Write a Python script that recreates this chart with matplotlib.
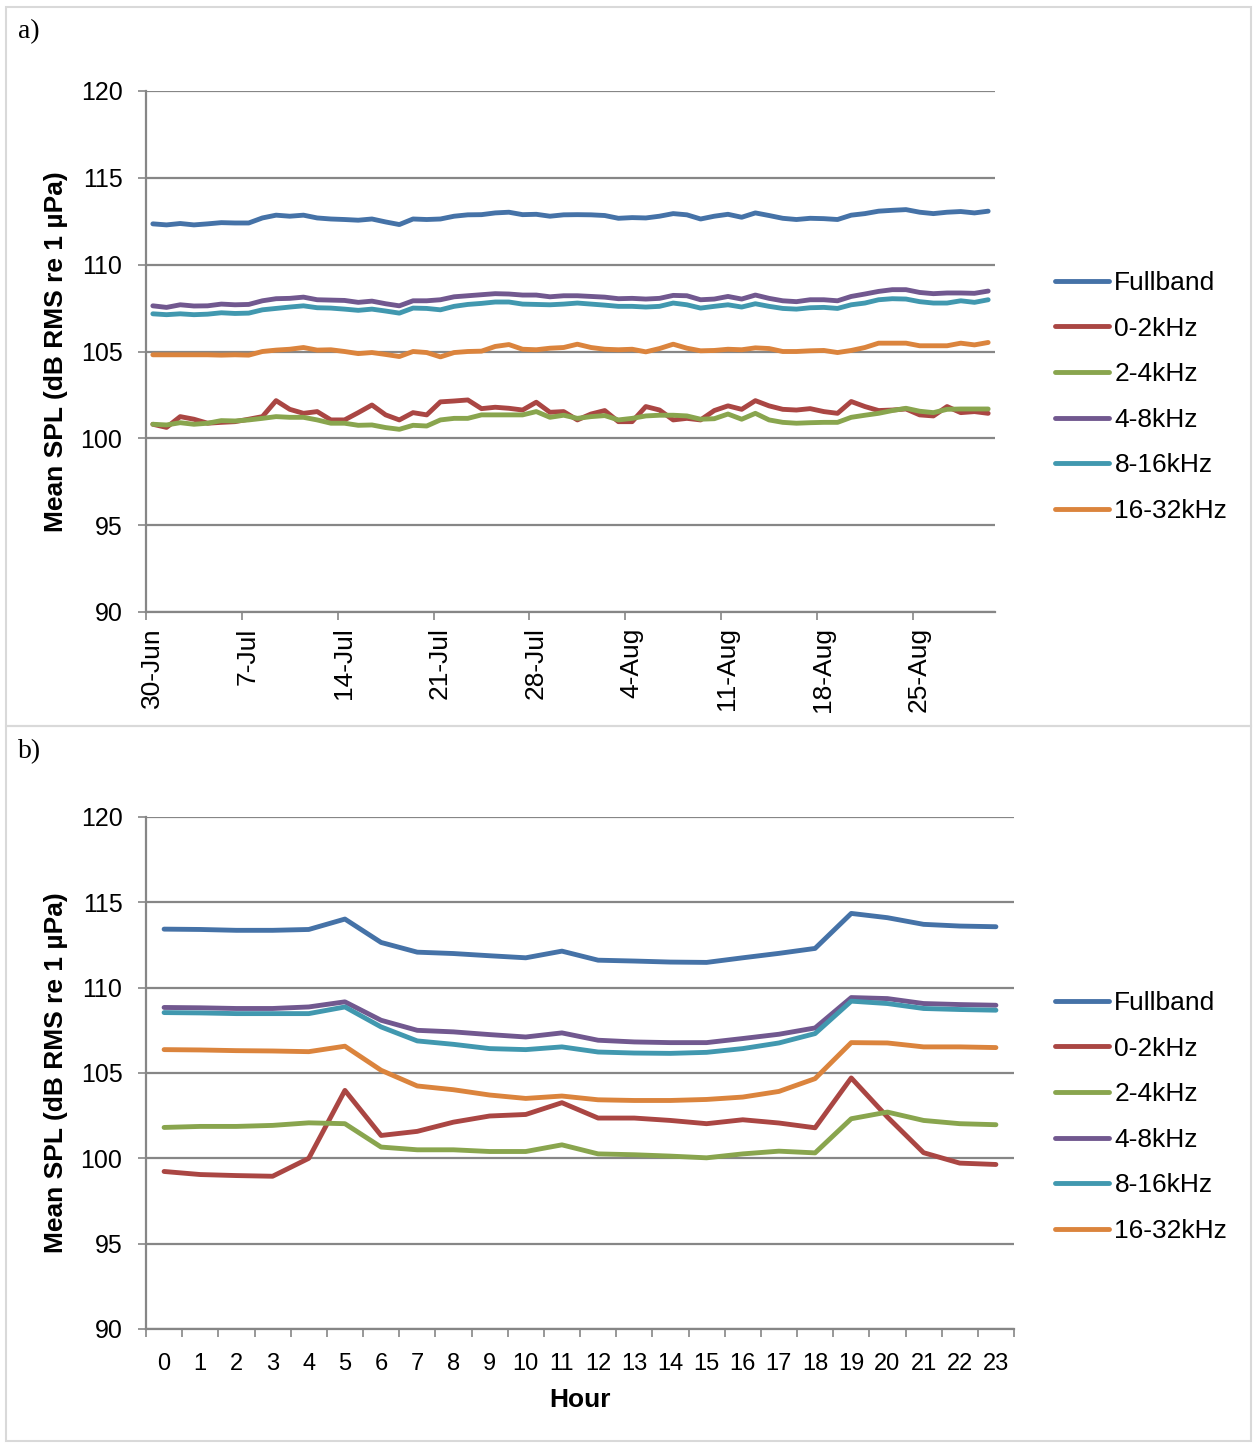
import numpy as np
import matplotlib
matplotlib.use("Agg")
import matplotlib.pyplot as plt
import matplotlib.transforms as mtransforms
from matplotlib.patches import Rectangle

plt.rcParams["font.family"] = ["Liberation Sans", "DejaVu Sans"]

labels = ["Fullband", "0-2kHz", "2-4kHz", "4-8kHz", "8-16kHz", "16-32kHz"]
colors = ["#4572A7", "#AA4643", "#89A54E", "#71588F", "#4198AF", "#DB843D"]

# a) daily means, 30-Jun .. 30-Aug
date_ticks = ["30-Jun", "7-Jul", "14-Jul", "21-Jul", "28-Jul", "4-Aug", "11-Aug", "18-Aug", "25-Aug"]
full_a = [112.35, 112.29, 112.37, 112.29, 112.35, 112.42, 112.40, 112.40, 112.69, 112.85,
          112.79, 112.85, 112.69, 112.63, 112.60, 112.56, 112.63, 112.46, 112.31, 112.63,
          112.60, 112.63, 112.79, 112.87, 112.88, 112.98, 113.02, 112.88, 112.90, 112.79,
          112.87, 112.88, 112.87, 112.83, 112.67, 112.71, 112.69, 112.79, 112.94, 112.87,
          112.63, 112.79, 112.90, 112.73, 112.98, 112.83, 112.67, 112.60, 112.67, 112.65,
          112.60, 112.85, 112.94, 113.08, 113.13, 113.17, 113.02, 112.94, 113.02, 113.06,
          112.98, 113.08]
low_a = [100.81, 100.63, 101.25, 101.10, 100.87, 100.92, 100.96, 101.10, 101.25, 102.17,
         101.67, 101.44, 101.54, 101.06, 101.06, 101.48, 101.92, 101.35, 101.06, 101.48,
         101.35, 102.10, 102.15, 102.21, 101.71, 101.79, 101.73, 101.63, 102.08, 101.50,
         101.54, 101.06, 101.40, 101.60, 100.96, 100.96, 101.83, 101.63, 101.06, 101.15,
         101.06, 101.60, 101.87, 101.67, 102.17, 101.87, 101.67, 101.63, 101.71, 101.54,
         101.44, 102.12, 101.83, 101.60, 101.63, 101.69, 101.35, 101.29, 101.83, 101.48,
         101.54, 101.44]
b24_a = [100.81, 100.77, 100.90, 100.81, 100.87, 101.02, 101.00, 101.06, 101.15, 101.25,
         101.21, 101.21, 101.06, 100.87, 100.87, 100.75, 100.77, 100.62, 100.52, 100.75,
         100.71, 101.06, 101.15, 101.15, 101.35, 101.35, 101.35, 101.35, 101.54, 101.21,
         101.33, 101.15, 101.25, 101.31, 101.06, 101.15, 101.29, 101.33, 101.33, 101.29,
         101.10, 101.13, 101.40, 101.10, 101.44, 101.06, 100.92, 100.87, 100.90, 100.92,
         100.92, 101.21, 101.33, 101.44, 101.60, 101.73, 101.56, 101.48, 101.67, 101.69,
         101.69, 101.69]
b48_a = [107.63, 107.54, 107.69, 107.62, 107.63, 107.73, 107.69, 107.71, 107.92, 108.04,
         108.06, 108.13, 107.98, 107.96, 107.94, 107.83, 107.90, 107.75, 107.63, 107.92,
         107.92, 107.98, 108.15, 108.21, 108.27, 108.33, 108.31, 108.25, 108.25, 108.15,
         108.21, 108.21, 108.17, 108.13, 108.04, 108.06, 108.02, 108.06, 108.23, 108.21,
         107.98, 108.02, 108.17, 108.02, 108.25, 108.06, 107.92, 107.87, 107.98, 107.98,
         107.92, 108.17, 108.31, 108.46, 108.56, 108.56, 108.40, 108.33, 108.37, 108.37,
         108.35, 108.48]
b816_a = [107.17, 107.12, 107.17, 107.12, 107.15, 107.23, 107.19, 107.21, 107.40, 107.48,
          107.56, 107.63, 107.52, 107.50, 107.44, 107.37, 107.44, 107.33, 107.21, 107.50,
          107.48, 107.40, 107.60, 107.71, 107.77, 107.85, 107.85, 107.73, 107.71, 107.69,
          107.73, 107.79, 107.73, 107.67, 107.60, 107.60, 107.56, 107.60, 107.79, 107.69,
          107.50, 107.60, 107.69, 107.56, 107.75, 107.60, 107.48, 107.44, 107.52, 107.54,
          107.48, 107.69, 107.79, 107.98, 108.04, 108.02, 107.87, 107.79, 107.79, 107.92,
          107.83, 107.98]
b1632_a = [104.81, 104.81, 104.81, 104.81, 104.81, 104.79, 104.81, 104.79, 105.00, 105.08,
           105.13, 105.23, 105.08, 105.10, 105.00, 104.88, 104.94, 104.83, 104.71, 105.00,
           104.94, 104.69, 104.94, 105.00, 105.02, 105.29, 105.40, 105.13, 105.10, 105.19,
           105.23, 105.42, 105.23, 105.13, 105.10, 105.13, 104.98, 105.17, 105.42, 105.19,
           105.04, 105.06, 105.13, 105.10, 105.21, 105.17, 105.00, 105.00, 105.04, 105.06,
           104.94, 105.06, 105.23, 105.48, 105.48, 105.48, 105.33, 105.33, 105.33, 105.48,
           105.38, 105.52]

# b) hourly means
hours = list(range(24))
full_b = [113.43, 113.41, 113.36, 113.36, 113.41, 114.02, 112.65, 112.08, 112.00, 111.87, 111.75, 112.14,
          111.61, 111.56, 111.50, 111.48, 111.75, 112.01, 112.30, 114.35, 114.10, 113.71, 113.61, 113.57]
low_b = [99.23, 99.05, 98.99, 98.95, 100.00, 103.98, 101.34, 101.58, 102.12, 102.48, 102.57, 103.26,
         102.36, 102.36, 102.22, 102.03, 102.26, 102.07, 101.79, 104.71, 102.42, 100.33, 99.72, 99.64]
b24_b = [101.81, 101.87, 101.87, 101.93, 102.08, 102.03, 100.66, 100.50, 100.50, 100.40, 100.40, 100.79,
         100.26, 100.21, 100.13, 100.03, 100.26, 100.42, 100.32, 102.32, 102.71, 102.22, 102.03, 101.97]
b48_b = [108.84, 108.82, 108.78, 108.78, 108.87, 109.17, 108.09, 107.50, 107.41, 107.25, 107.11, 107.35,
         106.92, 106.82, 106.78, 106.78, 107.02, 107.27, 107.64, 109.42, 109.36, 109.07, 109.01, 108.97]
b816_b = [108.54, 108.52, 108.48, 108.48, 108.48, 108.87, 107.70, 106.88, 106.68, 106.43, 106.37, 106.53,
          106.23, 106.17, 106.15, 106.21, 106.43, 106.76, 107.31, 109.21, 109.07, 108.78, 108.72, 108.68]
b1632_b = [106.37, 106.35, 106.31, 106.29, 106.25, 106.57, 105.16, 104.24, 104.02, 103.71, 103.51, 103.65,
           103.43, 103.39, 103.39, 103.45, 103.59, 103.92, 104.67, 106.78, 106.76, 106.53, 106.53, 106.49]

W, H = 1254, 1444
fig = plt.figure(figsize=(W / 100, H / 100), dpi=100)
grey = "#868686"


def px_axes(l, t, r, b):
    return fig.add_axes([l / W, 1 - b / H, (r - l) / W, (b - t) / H])


def style(ax):
    ax.set_ylim(90, 120)
    ax.set_yticks(np.arange(90, 121, 5))
    ax.yaxis.grid(True, color=grey, lw=1.6)
    ax.set_axisbelow(True)
    for s in ["top", "right"]:
        ax.spines[s].set_visible(False)
    for s in ["left", "bottom"]:
        ax.spines[s].set_color(grey)
        ax.spines[s].set_linewidth(1.6)
    ax.tick_params(axis="y", colors=grey, labelcolor="black", labelsize=18,
                   length=6, width=1.2, pad=11)
    ax.set_ylabel("Mean SPL (dB RMS re 1 µPa)", fontsize=19, fontweight="bold")


def draw_legend(ax, cy):
    ax.legend(loc="center left", bbox_to_anchor=(1055 / W, 1 - cy / H),
              bbox_transform=fig.transFigure, frameon=False, fontsize=19,
              handlelength=2.05, handletextpad=0.2, labelspacing=0.82,
              borderpad=0, borderaxespad=0)


# panel frames
for top, bot in [(7, 726), (726, 1441)]:
    fig.patches.append(Rectangle((6 / W, 1 - bot / H), (1251 - 6) / W, (bot - top) / H,
                                 transform=fig.transFigure, fill=False,
                                 edgecolor="#d9d9d9", lw=1.5))
fig.text(18 / W, 1 - 32 / H, "a)", family="Liberation Serif", fontsize=20, va="center")
fig.text(18 / W, 1 - 752 / H, "b)", family="Liberation Serif", fontsize=20, va="center")

# a)
ax1 = px_axes(146, 91, 995, 612)
days = np.arange(len(full_a)) + 0.5
for vals, lab, c in zip([full_a, low_a, b24_a, b48_a, b816_a, b1632_a], labels, colors):
    ax1.plot(days, vals, color=c, lw=3.5, label=lab, solid_capstyle="round", solid_joinstyle="round")
style(ax1)
ax1.set_xlim(0, 62)
ax1.set_xticks(np.arange(0, 62, 7))
ax1.set_xticklabels(date_ticks, rotation=90, fontsize=19)
ax1.tick_params(axis="x", colors=grey, labelcolor="black", length=6, width=1.2, pad=5)
shift = mtransforms.ScaledTranslation(6 / 100, 0, fig.dpi_scale_trans)
for t in ax1.get_xticklabels():
    t.set_transform(t.get_transform() + shift)
ax1.yaxis.set_label_coords(-0.092, 0.5)
draw_legend(ax1, 397)

# b)
ax2 = px_axes(146, 817, 1014, 1329)
for vals, lab, c in zip([full_b, low_b, b24_b, b48_b, b816_b, b1632_b], labels, colors):
    ax2.plot(hours, vals, color=c, lw=3.5, label=lab, solid_capstyle="round", solid_joinstyle="round")
style(ax2)
ax2.set_xlim(-0.5, 23.5)
ax2.set_xticks(hours)
ax2.set_xticklabels([str(h) for h in hours], fontsize=17)
ax2.set_xticks(np.arange(-0.5, 24, 1), minor=True)
ax2.tick_params(axis="x", which="major", length=0, pad=17)
ax2.tick_params(axis="x", which="minor", colors=grey, length=6, width=1.2)
ax2.set_xlabel("Hour", fontsize=19, fontweight="bold")
ax2.xaxis.set_label_coords(0.5, -0.115)
ax2.yaxis.set_label_coords(-0.090, 0.5)
draw_legend(ax2, 1117)

plt.savefig("out.png", dpi=100)
